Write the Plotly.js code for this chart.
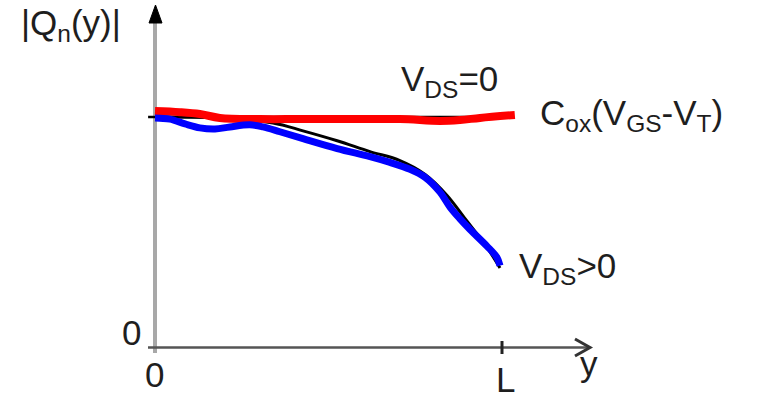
<!DOCTYPE html>
<html>
<head>
<meta charset="utf-8">
<script src="https://cdn.plot.ly/plotly-3.0.1.min.js"></script>
<style>html,body{margin:0;padding:0;background:#fff}#chart{width:765px;height:398px}</style>
</head>
<body>
<div id="chart"></div>
<script>
// Position along channel (y/L) and normalized charge |Qn|/(Cox(VGS-VT))
const ideal0X = [-0.02, 1.04];
const ideal0Q = [1.0, 1.0];

const idealX = [0, 0.188, 0.342, 0.429, 0.528, 0.623, 0.710, 0.783, 0.846, 0.904, 0.957, 1.0];
const idealQ = [1.0, 0.996, 0.974, 0.940, 0.897, 0.850, 0.811, 0.751, 0.661, 0.549, 0.446, 0.345];

const redX = [0, 0.072, 0.130, 0.188, 0.304, 0.420, 0.565, 0.710, 0.826, 0.884, 0.942, 1.043];
const redQ = [1.026, 1.021, 1.013, 0.996, 0.991, 0.991, 0.991, 0.991, 0.983, 0.987, 0.996, 1.009];

const blueX = [0, 0.043, 0.087, 0.130, 0.174, 0.217, 0.275, 0.313, 0.362, 0.429, 0.528, 0.623, 0.681, 0.739, 0.783, 0.826, 0.855, 0.884, 0.913, 0.962, 0.991, 1.0];
const blueQ = [0.996, 0.991, 0.970, 0.953, 0.948, 0.957, 0.966, 0.957, 0.936, 0.906, 0.863, 0.828, 0.803, 0.773, 0.738, 0.674, 0.609, 0.558, 0.512, 0.440, 0.391, 0.355];

// layout helpers (pixel -> data) for decorations only
const PX = x => (x - 155) / 345;
const PY = y => (347.5 - y) / 230.5;

const FONT = "Liberation Sans, Arial, sans-serif";
const TXT = "#1e1e1e";

const traces = [
  {x: ideal0X, y: ideal0Q, mode: "lines", line: {color: "#000", width: 2.5}, hoverinfo: "skip"},
  {x: idealX, y: idealQ, mode: "lines", line: {color: "#000", width: 3, shape: "spline"}, hoverinfo: "skip"},
  {x: redX, y: redQ, mode: "lines", line: {color: "#ff0000", width: 8, shape: "spline"}, hoverinfo: "skip"},
  {x: blueX, y: blueQ, mode: "lines", line: {color: "#0000ff", width: 7, shape: "spline"}, hoverinfo: "skip"}
];

const ann = (text, x, y, xanchor) => ({
  text: text, x: x, y: y, xref: "x", yref: "y", showarrow: false,
  xanchor: xanchor || "center", yanchor: "middle", borderpad: 0,
  font: {family: FONT, size: 35, color: TXT}
});

const layout = {
  width: 765, height: 398,
  margin: {l: 0, r: 0, t: 0, b: 0},
  paper_bgcolor: "#fff", plot_bgcolor: "#fff",
  showlegend: false,
  xaxis: {range: [PX(0), PX(765)], visible: false, fixedrange: true},
  yaxis: {range: [PY(398), PY(0)], visible: false, fixedrange: true},
  shapes: [
    // y axis shaft
    {type: "line", xref: "x", yref: "y", x0: 0, x1: 0, y0: PY(353), y1: PY(20), line: {color: "#a8a8a8", width: 4}, layer: "below"},
    // y axis arrowhead
    {type: "path", xref: "x", yref: "y",
     path: `M ${PX(155.5)} ${PY(5)} L ${PX(149)} ${PY(23)} L ${PX(162)} ${PY(23)} Z`,
     fillcolor: "#000", line: {color: "#000", width: 1}},
    // x axis
    {type: "line", xref: "x", yref: "y", x0: PX(148), x1: PX(589), y0: 0, y1: 0, line: {color: "#555", width: 2.5}, layer: "below"},
    // x arrow chevron
    {type: "path", xref: "x", yref: "y",
     path: `M ${PX(575)} ${PY(339)} L ${PX(590)} ${PY(347.5)} L ${PX(575)} ${PY(356)}`,
     line: {color: "#333", width: 3}},
    // L tick
    {type: "line", xref: "x", yref: "y", x0: PX(502), x1: PX(502), y0: PY(341), y1: PY(354), line: {color: "#222", width: 3}}
  ],
  annotations: [
    ann("|Q<sub>n</sub>(y)|", PX(20), PY(24.5), "left"),
    ann("0", PX(131), PY(332.5)),
    ann("0", PX(154), PY(374.5)),
    ann("L", PX(505), PY(379.5)),
    ann("y", PX(589), PY(363.5)),
    ann("V<sub>DS</sub>=0", PX(400), PY(80.5), "left"),
    ann("C<sub>ox</sub>(V<sub>GS</sub>-V<sub>T</sub>)", PX(539), PY(114.5), "left"),
    ann("V<sub>DS</sub>>0", PX(518), PY(267.5), "left")
  ]
};

Plotly.newPlot("chart", traces, layout, {staticPlot: true, displayModeBar: false});
</script>
</body>
</html>
